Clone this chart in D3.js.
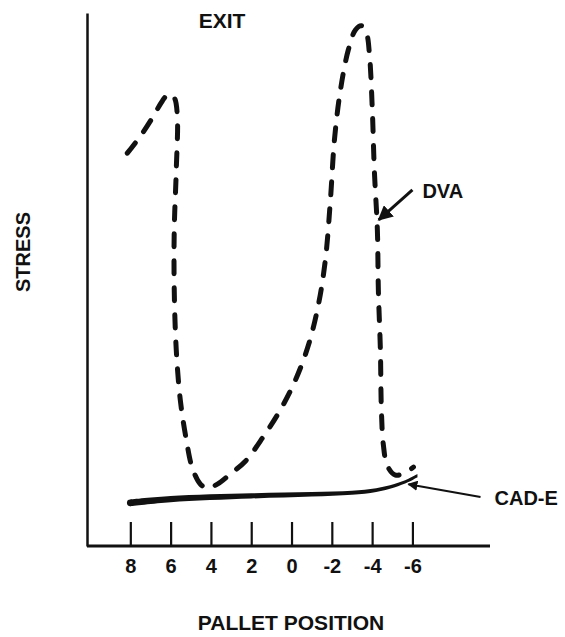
<!DOCTYPE html>
<html>
<head>
<meta charset="utf-8">
<script src="https://cdn.jsdelivr.net/npm/d3@7"></script>
<style>
  body { margin: 0; background: #fff; }
  text { font-family: "Liberation Sans", Arial, sans-serif; font-weight: bold; fill: #111; }
</style>
</head>
<body>
<div id="chart"></div>
<script>
// pallet positions shown on the axis
const tickPositions = [8, 6, 4, 2, 0, -2, -4, -6];

// DVA curve: [pallet position, stress (arbitrary units)]
const dvaCurve = [
	[8.15, 73.7], [7.5, 76.9], [6.91, 80.3], [6.41, 83.5], [6.11, 84.8],
	[5.82, 84.1], [5.67, 80.9], [5.72, 70.5], [5.82, 59.3], [5.82, 48.0],
	[5.72, 36.8], [5.52, 27.4], [5.22, 19.9], [4.92, 14.6], [4.52, 11.6],
	[4.18, 10.9], [3.68, 11.6], [3.04, 13.5], [2.29, 15.9], [1.4, 20.5],
	[0.56, 25.5], [-0.19, 31.1], [-0.84, 37.7], [-1.33, 45.2], [-1.68, 53.7],
	[-1.93, 64.9], [-2.13, 76.2], [-2.43, 85.6], [-2.82, 93.1], [-3.17, 96.8],
	[-3.47, 97.6], [-3.72, 96.2], [-3.87, 92.1], [-4.01, 81.8], [-4.11, 70.5],
	[-4.26, 59.3], [-4.31, 48.0], [-4.41, 36.8], [-4.46, 25.5], [-4.56, 18.9],
	[-4.76, 15.0], [-5.16, 13.3], [-5.6, 13.7], [-6.05, 14.8],
];

// CAD-E curve
const cadeCurve = [
	[8.0, 8.1], [6.0, 8.8], [2.0, 9.4], [-1.0, 9.7], [-3.0, 10.0],
	[-4.2, 10.5], [-5.1, 11.3], [-5.8, 12.3], [-6.25, 13.2],
];

// arrow annotations: [from, to] in data coordinates
const dvaArrow = [[-6.0, 66.8], [-4.33, 61.2]];
const cadeArrow = [[-9.38, 9.2], [-5.8, 11.6]];

const width = 565;
const height = 637;

const x = d3.scaleLinear().domain([10.15, -9.85]).range([87, 490]);
const y = d3.scaleLinear().domain([0, 100]).range([546, 13]);

const svg = d3
	.select('#chart')
	.append('svg')
	.attr('width', width)
	.attr('height', height);

const defs = svg.append('defs');
defs
	.append('marker')
	.attr('id', 'head')
	.attr('viewBox', '0 0 10 10')
	.attr('refX', 9)
	.attr('refY', 5)
	.attr('markerWidth', 5)
	.attr('markerHeight', 5)
	.attr('markerUnits', 'strokeWidth')
	.attr('orient', 'auto')
	.append('path')
	.attr('d', 'M0,0L10,5L0,10Z')
	.attr('fill', '#111');

// y axis: plain line
svg
	.append('g')
	.attr('transform', `translate(${x.range()[0]},0)`)
	.call(d3.axisLeft(y).ticks(0).tickSizeOuter(0))
	.call((g) => g.select('.domain').attr('stroke', '#111').attr('stroke-width', 2.5));

// x axis: line across, ticks pointing up
svg
	.append('line')
	.attr('x1', x.range()[0])
	.attr('x2', x.range()[1])
	.attr('y1', y(0))
	.attr('y2', y(0))
	.attr('stroke', '#111')
	.attr('stroke-width', 3);

svg
	.append('g')
	.attr('transform', `translate(0,${y(0)})`)
	.call(
		d3
			.axisBottom(x)
			.tickValues(tickPositions)
			.tickSize(-24)
			.tickPadding(13)
			.tickFormat((d) => String(d))
	)
	.call((g) => g.select('.domain').remove())
	.call((g) => g.selectAll('.tick line').attr('stroke', '#111').attr('stroke-width', 2.2))
	.call((g) =>
		g
			.selectAll('.tick text')
			.attr('font-family', '"Liberation Sans", Arial, sans-serif')
			.attr('font-weight', 'bold')
			.attr('font-size', 20)
			.attr('fill', '#111')
	);

// DVA dashed curve
const line = d3
	.line()
	.x((d) => x(d[0]))
	.y((d) => y(d[1]))
	.curve(d3.curveCatmullRom.alpha(0.5));

svg
	.append('path')
	.datum(dvaCurve)
	.attr('d', line)
	.attr('fill', 'none')
	.attr('stroke', '#111')
	.attr('stroke-width', 5)
	.attr('stroke-linecap', 'round')
	.attr('stroke-dasharray', '13,14');

// CAD-E solid curve, tapering to the right
const taper = d3.scaleLinear().domain([8, -6.25]).range([3.4, 1.6]);
const area = d3
	.area()
	.x((d) => x(d[0]))
	.y0((d) => y(d[1]) - taper(d[0]))
	.y1((d) => y(d[1]) + taper(d[0]))
	.curve(d3.curveCatmullRom.alpha(0.5));

svg.append('path').datum(cadeCurve).attr('d', area).attr('fill', '#111');
svg
	.append('circle')
	.attr('cx', x(cadeCurve[0][0]))
	.attr('cy', y(cadeCurve[0][1]))
	.attr('r', taper(cadeCurve[0][0]))
	.attr('fill', '#111');

// arrows
svg
	.append('line')
	.attr('x1', x(dvaArrow[0][0]))
	.attr('y1', y(dvaArrow[0][1]))
	.attr('x2', x(dvaArrow[1][0]))
	.attr('y2', y(dvaArrow[1][1]))
	.attr('stroke', '#111')
	.attr('stroke-width', 3)
	.attr('marker-end', 'url(#head)');

svg
	.append('line')
	.attr('x1', x(cadeArrow[0][0]))
	.attr('y1', y(cadeArrow[0][1]))
	.attr('x2', x(cadeArrow[1][0]))
	.attr('y2', y(cadeArrow[1][1]))
	.attr('stroke', '#111')
	.attr('stroke-width', 2)
	.attr('marker-end', 'url(#head)');

// labels
svg.append('text').attr('x', x(dvaArrow[0][0]) + 10).attr('y', y(dvaArrow[0][1]) + 8).attr('font-size', 20).text('DVA');
svg.append('text').attr('x', x(cadeArrow[0][0]) + 14).attr('y', y(cadeArrow[0][1]) + 8).attr('font-size', 20).text('CAD-E');
svg.append('text').attr('x', 222).attr('y', 28).attr('text-anchor', 'middle').attr('font-size', 21).text('EXIT');

svg
	.append('text')
	.attr('transform', 'translate(30,252) rotate(-90)')
	.attr('text-anchor', 'middle')
	.attr('font-size', 20)
	.text('STRESS');

svg
	.append('text')
	.attr('x', 291)
	.attr('y', 630)
	.attr('text-anchor', 'middle')
	.attr('font-size', 21)
	.text('PALLET POSITION');
</script>
</body>
</html>
